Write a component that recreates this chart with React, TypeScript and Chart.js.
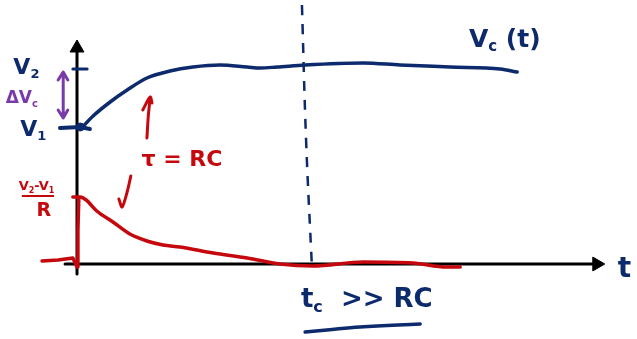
import React, { useEffect, useRef } from "react";
import { Chart, registerables } from "chart.js";
Chart.register(...registerables);

const NAVY = "#0d2a6c";
const RED = "#c4080e";
const PURPLE = "#7a3aa8";
const BLACK = "#000000";

// time axis in arbitrary units (t), vertical axis in arbitrary units
const vcTime = [0.1, 0.35, 0.72, 1.09, 1.52, 2.02, 2.52, 3.11, 3.7, 3.98, 4.35, 4.96, 6.22, 7.02, 8.11, 9.2, 9.57];
const vcVolt = [13.6, 14.8, 16.2, 17.4, 18.6, 19.3, 19.7, 19.9, 19.7, 19.6, 19.7, 19.9, 20.1, 19.9, 19.7, 19.5, 19.2];

const v1StubTime = [-0.37, 0.07, 0.28];
const v1StubVolt = [13.6, 13.7, 13.5];
const v2TickTime = [-0.09, 0.22];
const v2TickVolt = [19.5, 19.5];

const iStepTime = [-0.76, -0.41, -0.09, 0.0, 0.02, 0.04];
const iStepVal = [0.3, 0.4, 0.6, -0.3, 3.4, 6.6];
const iDecayTime = [-0.09, 0.07, 0.2, 0.43, 0.78, 1.15, 1.52, 1.87, 2.24, 2.96, 3.7, 4.41, 5.13, 6.22, 7.3, 8.04, 8.33];
const iDecayVal = [6.7, 6.7, 6.4, 5.3, 4.2, 3.0, 2.3, 1.9, 1.7, 1.1, 0.6, 0.0, -0.2, 0.2, 0.1, -0.3, -0.3];

const xAxisTime = [-0.26, 11.3];
const xAxisVal = [0, 0];
const yAxisTime = [0, 0];
const yAxisVal = [-1.0, 21.4];

const tcLineTime = [4.89, 4.98, 5.11];
const tcLineVal = [25.9, 12.4, -0.6];

const tcUnderTime = [4.96, 5.43, 6.15, 7.46];
const tcUnderVal = [-6.8, -6.6, -6.3, -6.0];

const dvArrowTime = [-0.41, -0.3, -0.2, null, -0.3, -0.3, null, -0.41, -0.3, -0.2];
const dvArrowVal = [18.4, 19.2, 18.4, null, 19.1, 14.7, null, 15.4, 14.6, 15.4];

const tauArrowTime = [1.52, 1.55, 1.59, null, 1.43, 1.59, 1.63];
const tauArrowVal = [12.6, 14.8, 16.6, null, 15.4, 16.7, 16.1];

const curStrokeTime = [1.17, 1.09, 0.98, 0.91];
const curStrokeVal = [8.8, 7.2, 5.7, 6.5];

type Seg = { t: string; sub?: boolean };
type Label = { x: number; y: number; segs: Seg[]; color: string; size: number };

const labels: Label[] = [
  { x: -1.1, y: 19.6, segs: [{ t: "V" }, { t: "2", sub: true }], color: NAVY, size: 22 },
  { x: -1.2, y: 16.5, segs: [{ t: "ΔV" }, { t: "c", sub: true }], color: PURPLE, size: 17 },
  { x: -0.95, y: 13.4, segs: [{ t: "V" }, { t: "1", sub: true }], color: NAVY, size: 22 },
  { x: -0.88, y: 7.7, segs: [{ t: "V" }, { t: "2", sub: true }, { t: "-V" }, { t: "1", sub: true }], color: RED, size: 13 },
  { x: -0.72, y: 5.3, segs: [{ t: "R" }], color: RED, size: 19 },
  { x: 2.28, y: 10.4, segs: [{ t: "τ = RC" }], color: RED, size: 22 },
  { x: 9.3, y: 22.4, segs: [{ t: "V" }, { t: "c", sub: true }, { t: " (t)" }], color: NAVY, size: 25 },
  { x: 6.3, y: -3.6, segs: [{ t: "t" }, { t: "c", sub: true }, { t: "  >> RC" }], color: NAVY, size: 26 },
  { x: 11.9, y: -0.6, segs: [{ t: "t" }], color: NAVY, size: 28 },
];

const pts = (xs: (number | null)[], ys: (number | null)[]) =>
  xs.map((x, i) => ({ x: x as number, y: ys[i] as number }));

const line = (data: any, color: string, width: number, extra: any = {}) => ({
  data,
  borderColor: color,
  backgroundColor: color,
  borderWidth: width,
  pointRadius: 0,
  showLine: true,
  fill: false,
  clip: false,
  spanGaps: false,
  borderCapStyle: "round",
  borderJoinStyle: "round",
  tension: 0,
  ...extra,
});

const textPlugin = {
  id: "sketchText",
  afterDatasetsDraw(chart: any) {
    const { ctx } = chart;
    const xs = chart.scales.x;
    const ys = chart.scales.y;
    ctx.save();
    ctx.textBaseline = "middle";
    for (const l of labels) {
      const px = xs.getPixelForValue(l.x);
      const py = ys.getPixelForValue(l.y);
      let total = 0;
      const widths = l.segs.map((s) => {
        ctx.font = `bold ${s.sub ? Math.round(l.size * 0.6) : l.size}px "DejaVu Sans", sans-serif`;
        const w = ctx.measureText(s.t).width;
        total += w;
        return w;
      });
      let cx = px - total / 2;
      ctx.fillStyle = l.color;
      l.segs.forEach((s, i) => {
        ctx.font = `bold ${s.sub ? Math.round(l.size * 0.6) : l.size}px "DejaVu Sans", sans-serif`;
        ctx.textAlign = "left";
        ctx.fillText(s.t, cx, s.sub ? py + l.size * 0.3 : py);
        cx += widths[i];
      });
    }
    ctx.strokeStyle = RED;
    ctx.lineWidth = 2;
    ctx.beginPath();
    ctx.moveTo(xs.getPixelForValue(-1.2), ys.getPixelForValue(6.8));
    ctx.lineTo(xs.getPixelForValue(-0.5), ys.getPixelForValue(6.8));
    ctx.stroke();
    ctx.restore();
  },
};

export default function App() {
  const ref = useRef<HTMLCanvasElement>(null);
  useEffect(() => {
    document.body.style.margin = "0";
    const cv = ref.current!;
    const chart = new Chart(cv, {
      type: "scatter",
      data: {
        datasets: [
          line(pts(vcTime, vcVolt), NAVY, 3.5, { cubicInterpolationMode: "monotone", order: 2 }),
          line(pts(v1StubTime, v1StubVolt), NAVY, 4, { order: 2 }),
          line(pts(v2TickTime, v2TickVolt), NAVY, 3, { order: 2 }),
          line(pts(iStepTime, iStepVal), RED, 3.5, { order: 1 }),
          line(pts(iDecayTime, iDecayVal), RED, 3.5, { cubicInterpolationMode: "monotone", order: 1 }),
          line(pts(xAxisTime, xAxisVal), BLACK, 3, { order: 10 }),
          line(pts(yAxisTime, yAxisVal), BLACK, 3, { order: 10 }),
          {
            data: [{ x: 11.3, y: 0 }, { x: 0, y: 21.6 }],
            showLine: false,
            pointStyle: "triangle",
            pointRadius: 8,
            rotation: [90, 0],
            pointRotation: [90, 0],
            backgroundColor: BLACK,
            borderColor: BLACK,
            borderWidth: 1,
            clip: false,
            order: 10,
          },
          {
            data: [{ x: 0.07, y: 13.7 }],
            showLine: false,
            pointStyle: "circle",
            pointRadius: 4,
            backgroundColor: NAVY,
            borderColor: NAVY,
            clip: false,
            order: 2,
          },
          line(pts(tcLineTime, tcLineVal), NAVY, 2.5, { tension: 0.4, borderDash: [10, 9], borderCapStyle: "butt", order: 3 }),
          line(pts(tcUnderTime, tcUnderVal), NAVY, 3.5, { tension: 0.4, order: 3 }),
          line(pts(dvArrowTime, dvArrowVal), PURPLE, 3, { order: 3 }),
          line(pts(tauArrowTime, tauArrowVal), RED, 3, { tension: 0.3, order: 3 }),
          line(pts(curStrokeTime, curStrokeVal), RED, 3, { tension: 0.3, order: 3 }),
        ] as any,
      },
      options: {
        responsive: false,
        animation: false,
        devicePixelRatio: 1,
        layout: { padding: 0, autoPadding: false },
        plugins: { legend: { display: false }, tooltip: { enabled: false } },
        events: [],
        scales: {
          x: { type: "linear", display: false, min: -1.674, max: 12.174 },
          y: { type: "linear", display: false, min: -7.5, max: 26.4 },
        },
      },
      plugins: [textPlugin],
    });
    return () => chart.destroy();
  }, []);
  return (
    <div style={{ width: 637, height: 339, background: "#fff" }}>
      <canvas ref={ref} width={637} height={339} />
    </div>
  );
}
